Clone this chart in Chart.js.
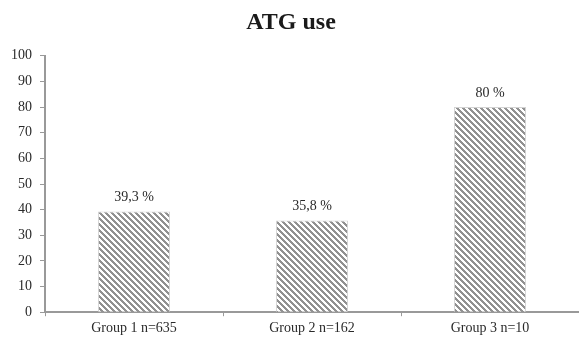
<!DOCTYPE html>
<html>
<head>
<meta charset="utf-8">
<script src="https://cdn.jsdelivr.net/npm/chart.js@4"></script>
<style>
  html, body { margin: 0; padding: 0; background: #fff; }
  #wrap { width: 579px; height: 338px; }
</style>
</head>
<body>
<div id="wrap"><canvas id="chart"></canvas></div>
<script>
'use strict';

const categories = ['Group 1 n=635', 'Group 2 n=162', 'Group 3 n=10'];
const atgUse = [39.3, 35.8, 80];
const valueLabels = ['39,3 %', '35,8 %', '80 %'];
const yTicks = [0, 10, 20, 30, 40, 50, 60, 70, 80, 90, 100];

const serif = '"Liberation Serif", "DejaVu Serif", serif';

// diagonal hatch like the original fill
function makeHatch() {
    const n = 6;
    const c = document.createElement('canvas');
    c.width = n;
    c.height = n;
    const g = c.getContext('2d');
    const img = g.createImageData(n, n);
    for (let y = 0; y < n; y++) {
        for (let x = 0; x < n; x++) {
            const i = (y * n + x) * 4;
            const on = ((x - y) % n + n) % n < 3;
            const v = on ? 145 : 255;
            img.data[i] = v;
            img.data[i + 1] = v;
            img.data[i + 2] = v;
            img.data[i + 3] = 255;
        }
    }
    g.putImageData(img, 0, 0);
    return g.createPattern(c, 'repeat');
}

const ctx = document.getElementById('chart').getContext('2d');

const valueLabelPlugin = {
    id: 'valueLabels',
    afterDatasetsDraw(chart) {
        const g = chart.ctx;
        const meta = chart.getDatasetMeta(0);
        g.save();
        g.font = '14px ' + serif;
        g.fillStyle = '#2a2a2a';
        g.textAlign = 'center';
        g.textBaseline = 'bottom';
        meta.data.forEach((bar, i) => {
            g.fillText(valueLabels[i], bar.x, bar.y - 7);
        });
        g.restore();
    }
};

new Chart(ctx, {
    type: 'bar',
    data: {
        labels: categories,
        datasets: [{
            label: 'ATG use',
            data: atgUse,
            backgroundColor: makeHatch(),
            borderColor: '#d4d4d4',
            borderWidth: 1,
            categoryPercentage: 1,
            barPercentage: 0.405
        }]
    },
    options: {
        responsive: true,
        maintainAspectRatio: false,
        animation: false,
        layout: {
            padding: { left: 3, right: 0, top: 0, bottom: -3 }
        },
        plugins: {
            legend: { display: false },
            tooltip: { enabled: false },
            title: {
                display: true,
                text: 'ATG use',
                color: '#1a1a1a',
                font: { family: serif, size: 24, weight: 'bold' },
                padding: { top: 8, bottom: 19 }
            }
        },
        scales: {
            x: {
                grid: {
                    display: true,
                    offset: true,
                    drawOnChartArea: false,
                    drawTicks: true,
                    tickLength: 4,
                    color: '#999'
                },
                border: { display: true, color: '#999', width: 2 },
                ticks: {
                    color: '#2a2a2a',
                    font: { family: serif, size: 14 },
                    padding: 4,
                    maxRotation: 0
                }
            },
            y: {
                min: 0,
                max: 100,
                afterBuildTicks(axis) {
                    axis.ticks = yTicks.map(v => ({ value: v }));
                },
                grid: {
                    display: true,
                    drawOnChartArea: false,
                    drawTicks: true,
                    tickLength: 5,
                    color: '#999'
                },
                border: { display: true, color: '#999', width: 2 },
                ticks: {
                    color: '#2a2a2a',
                    font: { family: serif, size: 14 },
                    padding: 8
                }
            }
        }
    },
    plugins: [valueLabelPlugin]
});
</script>
</body>
</html>
